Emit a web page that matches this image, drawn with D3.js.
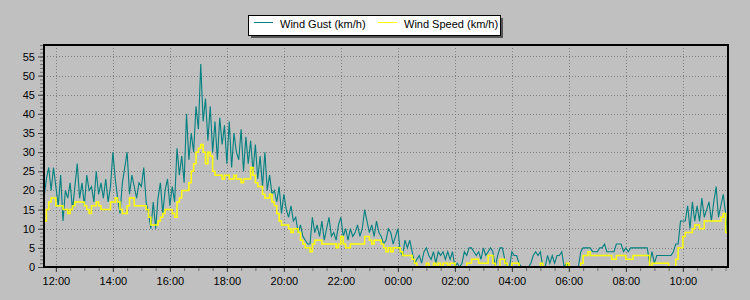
<!DOCTYPE html>
<html>
<head>
<meta charset="utf-8">
<script src="https://cdn.jsdelivr.net/npm/d3@7"></script>
<style>
  body { margin: 0; background: #c0c0c0; }
  svg { display: block; font-family: Arial, "Liberation Sans", sans-serif; }
</style>
</head>
<body>
<div id="chart"></div>
<script>
// readings every 5 minutes, starting 11:35
var startTime = new Date(2024, 0, 1, 11, 35)
var stepMinutes = 5

var gust = [
  18,23,26,20,26,21,16,24,12,20,18,22,
  15,21,27,18,22,16,24,20,21,17,25,19,
  22,18,23,17,21,30,23,18,14,22,26,30,
  19,24,21,18,22,21,26,17,14,10,17,10,
  18,22,14,20,23,16,21,17,31,24,29,22,
  40,28,35,30,42,36,53,38,44,33,42,30,
  38,28,39,32,37,27,38,26,35,30,28,36,
  25,34,27,33,25,32,23,29,21,30,20,24,
  19,20,17,21,14,19,15,13,16,12,13,9,
  11,8,7,6,6,13,9,11,8,12,7,10,
  13,8,9,7,11,13,8,10,7,10,8,9,
  11,8,10,15,12,9,11,8,12,9,8,6,
  7,10,9,6,8,10,4,3,7,5,7,4,
  1,2,3,1,4,5,3,2,4,1,4,3,
  4,2,4,2,4,0,1,0,1,4,3,5,
  5,4,3,4,2,5,3,4,5,4,0,3,
  5,5,2,0,0,4,3,3,1,0,0,0,
  0,1,3,4,3,4,0,0,3,1,3,1,
  3,3,4,0,1,0,0,0,0,0,4,5,
  5,5,5,4,4,4,5,5,6,4,4,4,
  4,6,6,6,4,5,4,5,5,5,5,5,
  5,5,5,1,4,1,3,3,3,3,3,3,
  3,4,6,6,12,12,12,16,10,17,12,16,
  12,18,13,15,17,12,17,21,13,16,19,14,
  7
]

var speed = [
  12,15,17,18,18,16,16,16,15,15,14,15,
  16,17,17,17,17,16,15,14,16,16,17,16,
  15,15,15,15,17,17,18,17,15,14,14,16,
  18,18,16,16,16,16,16,15,13,11,11,11,
  12,13,14,15,15,15,14,13,17,18,20,20,
  20,22,25,27,30,31,32,30,27,30,29,25,
  24,24,24,23,24,24,23,23,24,23,23,22,
  23,23,23,26,24,22,21,21,19,18,18,19,
  17,16,14,12,11,11,11,10,9,10,10,9,
  7,6,5,5,4,6,7,7,7,6,6,6,
  6,6,6,5,6,8,6,5,5,6,6,6,
  6,6,6,8,8,7,6,7,7,7,6,5,
  4,5,4,5,5,5,4,3,3,3,3,2,
  1,0,0,0,0,1,0,0,1,0,1,0,
  1,1,0,1,1,0,0,0,0,0,1,1,
  2,2,2,1,1,1,1,3,3,1,0,0,
  2,2,1,0,0,1,1,1,0,0,0,0,
  0,0,0,0,0,1,0,0,0,0,0,0,
  0,0,0,0,1,0,0,0,0,0,1,3,
  3,4,3,3,3,3,3,3,3,3,3,2,
  2,3,3,3,3,2,2,2,3,3,3,3,
  3,3,3,0,1,1,1,1,1,1,1,0,
  0,0,2,5,5,8,9,9,9,10,11,11,
  10,10,12,12,12,12,12,12,12,13,14,9,
  7
]

var yTicks = [0, 5, 10, 15, 20, 25, 30, 35, 40, 45, 50, 55]
var seriesNames = ["Wind Gust (km/h)", "Wind Speed (km/h)"]
var seriesColors = ["#008080", "#ffff00"]

var margin = { top: 45, right: 22, bottom: 33, left: 44 },
    width = 750 - margin.left - margin.right,
    height = 300 - margin.top - margin.bottom;

var svgRoot = d3.select("#chart")
    .append("svg")
    .attr("width", 750)
    .attr("height", 300)

svgRoot.append("rect")
    .attr("width", 750).attr("height", 300)
    .attr("fill", "#c0c0c0")

var svg = svgRoot.append("g")
    .attr("transform", "translate(" + margin.left + "," + margin.top + ")");

function timeAt(i) {
    return new Date(startTime.getTime() + i * stepMinutes * 60000)
}

var x = d3.scaleTime()
    .domain([startTime, d3.timeHour.offset(startTime, 24)])
    .range([0, width])

var y = d3.scaleLinear()
    .domain([0, 58])
    .range([height, 0])

var majorTimes = x.ticks(d3.timeHour.every(2))
var minorTimes = x.ticks(d3.timeMinute.every(30))

// grid
svg.append("g").selectAll("line.gx")
    .data(majorTimes)
    .enter().append("line")
    .attr("x1", d => Math.round(x(d)) + 0.5).attr("x2", d => Math.round(x(d)) + 0.5)
    .attr("y1", 0).attr("y2", height)
    .attr("stroke", "#808080").attr("stroke-dasharray", "1,2")

svg.append("g").selectAll("line.gy")
    .data(yTicks.slice(1))
    .enter().append("line")
    .attr("x1", 0).attr("x2", width)
    .attr("y1", d => Math.round(y(d)) + 0.5).attr("y2", d => Math.round(y(d)) + 0.5)
    .attr("stroke", "#808080").attr("stroke-dasharray", "1,2")

// series: gust is spiky, speed is stepped
var curves = [d3.curveLinear, d3.curveStepAfter]
var series = [gust, speed]
series.forEach(function (values, k) {
    var line = d3.line()
        .x(function (d, i) { return x(timeAt(i)) })
        .y(function (d) { return y(d) })
        .curve(curves[k])
    svg.append("path")
        .datum(values)
        .attr("fill", "none")
        .attr("stroke", seriesColors[k])
        .attr("stroke-width", k == 0 ? 1.1 : 1.5)
        .attr("d", line)
})

// frame
svg.append("rect")
    .attr("x", 0).attr("y", 0)
    .attr("width", width).attr("height", height)
    .attr("fill", "none")
    .attr("stroke", "#000")
    .attr("stroke-width", 2)

// y axis: minor ruler ticks, then labelled ticks
var yMinor = svg.append("g")
    .attr("transform", "translate(-1,0)")
    .call(d3.axisLeft(y).tickValues(d3.range(0, 59)).tickSize(3).tickFormat(""))
yMinor.select(".domain").remove()
yMinor.selectAll("line").attr("stroke", "#707070")

var yAxis = svg.append("g")
    .attr("transform", "translate(-1,0)")
    .call(d3.axisLeft(y).tickValues(yTicks).tickSize(5).tickPadding(3))
yAxis.select(".domain").remove()
yAxis.selectAll("line").attr("stroke", "#404040")
yAxis.selectAll("text")
    .attr("font-size", "11px")
    .attr("font-family", "Arial, 'Liberation Sans', sans-serif")
    .attr("fill", "#000")

// x axis
var xMinor = svg.append("g")
    .attr("transform", "translate(0," + (height + 1) + ")")
    .call(d3.axisBottom(x).tickValues(minorTimes).tickSize(3).tickFormat(""))
xMinor.select(".domain").remove()
xMinor.selectAll("line").attr("stroke", "#707070")

var xAxis = svg.append("g")
    .attr("transform", "translate(0," + (height + 1) + ")")
    .call(d3.axisBottom(x).tickValues(majorTimes).tickSize(4).tickPadding(5)
        .tickFormat(d3.timeFormat("%H:%M")))
xAxis.select(".domain").remove()
xAxis.selectAll("line").attr("stroke", "#404040")
xAxis.selectAll("text")
    .attr("font-size", "11px")
    .attr("font-family", "Arial, 'Liberation Sans', sans-serif")
    .attr("fill", "#000")

// legend
var legend = svgRoot.append("g").attr("transform", "translate(248,15)")
legend.append("rect")
    .attr("x", 3).attr("y", 3).attr("width", 252).attr("height", 20)
    .attr("fill", "#555")
legend.append("rect")
    .attr("x", 0.5).attr("y", 0.5).attr("width", 252).attr("height", 20)
    .attr("fill", "#fff").attr("stroke", "#000")

var legendX = [6, 130]
seriesNames.forEach(function (name, k) {
    legend.append("line")
        .attr("x1", legendX[k]).attr("x2", legendX[k] + 19)
        .attr("y1", 7.5).attr("y2", 7.5)
        .attr("stroke", seriesColors[k])
    legend.append("text")
        .attr("x", legendX[k] + 26).attr("y", 12.5)
        .attr("font-size", "11px")
        .text(name)
})
</script>
</body>
</html>
